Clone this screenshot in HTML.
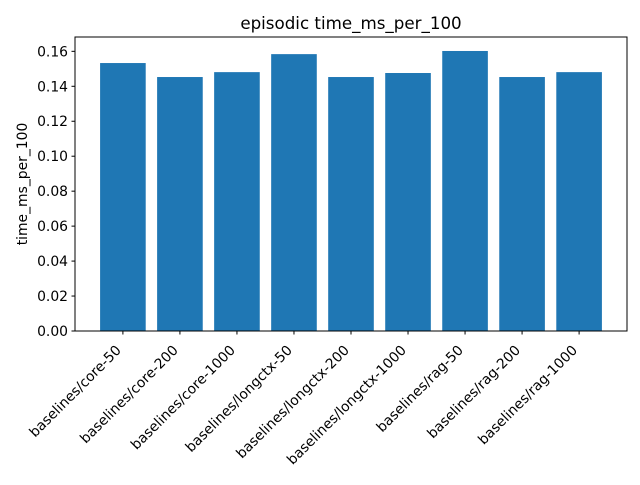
<!DOCTYPE html>
<html><head><meta charset="utf-8"><style>
body{margin:0;background:#fff}
svg text{font-family:"DejaVu Sans","Liberation Sans",sans-serif;fill:#000}
</style></head><body>
<svg id="chart" width="640" height="480" xmlns="http://www.w3.org/2000/svg">
<rect width="640" height="480" fill="#fff"/>
<text x="351" y="29" font-size="16.7" text-anchor="middle">episodic time_ms_per_100</text>
<text transform="translate(27,184) rotate(-90)" font-size="13.9" text-anchor="middle">time_ms_per_100</text>
<g id="bars"></g><g id="yticks"></g><g id="xticks"></g>
<rect x="75" y="37" width="552" height="294" fill="none" stroke="#000" stroke-width="1"/>
</svg>
<script>
const categories=["baselines/core-50","baselines/core-200","baselines/core-1000","baselines/longctx-50","baselines/longctx-200","baselines/longctx-1000","baselines/rag-50","baselines/rag-200","baselines/rag-1000"];
const values=[0.1533,0.1453,0.1481,0.1584,0.1453,0.1476,0.1602,0.1453,0.1481];
const yTicks=[0,0.02,0.04,0.06,0.08,0.10,0.12,0.14,0.16];
const yTickLabels=["0.00","0.02","0.04","0.06","0.08","0.10","0.12","0.14","0.16"];
const NS="http://www.w3.org/2000/svg";
const L=75,R=627,T=37,B=331;
const xmin=-0.84,xmax=categories.length-1+0.84;
const ymax=0.1682;
const xs=v=>L+(v-xmin)/(xmax-xmin)*(R-L);
const ys=v=>B-v/ymax*(B-T);
const unit=(R-L)/(xmax-xmin);
function mk(t,a,p){const e=document.createElementNS(NS,t);for(const k in a)e.setAttribute(k,a[k]);p.appendChild(e);return e;}
const gb=document.getElementById('bars'),gy=document.getElementById('yticks'),gx=document.getElementById('xticks');
values.forEach((v,i)=>{
 const r=mk('rect',{x:xs(i)-0.4*unit,y:ys(v),width:0.8*unit,height:B-ys(v),fill:'#1f77b4'},gb);
 
 
});
yTicks.forEach((v,i)=>{
 const y=ys(v);
 const l=mk('line',{x1:L-3.5,x2:L,y1:y,y2:y,stroke:'#000','stroke-width':1},gy);
 
 
 const t=mk('text',{x:L-7,y:y+5,'font-size':13.9,'text-anchor':'end'},gy);
 t.textContent=yTickLabels[i];
 
 
});
categories.forEach((c,i)=>{
 const x=xs(i);
 const l=mk('line',{x1:x,x2:x,y1:B,y2:B+3.5,stroke:'#000','stroke-width':1},gx);
 
 
 const t=mk('text',{'font-size':13.9,'text-anchor':'end',transform:`translate(${x-1},351) rotate(-45)`},gx);
 t.textContent=c;
 
 
});
</script>
</body></html>
